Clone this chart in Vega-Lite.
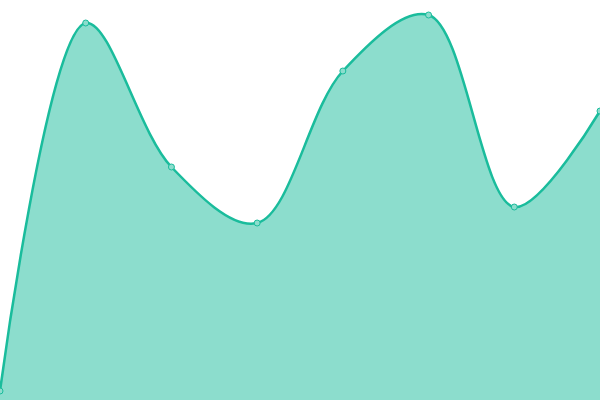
{
  "$schema": "https://vega.github.io/schema/vega-lite/v6.json",
  "autosize": {"type": "none"},
  "width": 600,
  "height": 400,
  "padding": 0,
  "config": {"view": {"stroke": null}},
  "data": {
    "values": [
      {"i": 0, "v": 9},
      {"i": 1, "v": 377},
      {"i": 2, "v": 233},
      {"i": 3, "v": 177},
      {"i": 4, "v": 329},
      {"i": 5, "v": 385},
      {"i": 6, "v": 193},
      {"i": 7, "v": 289}
    ]
  },
  "encoding": {
    "x": {"field": "i", "type": "quantitative", "scale": {"domain": [0, 7], "nice": false, "zero": false}, "axis": null},
    "y": {"field": "v", "type": "quantitative", "scale": {"domain": [0, 400], "nice": false}, "axis": null}
  },
  "layer": [
    {"mark": {"type": "area", "interpolate": "catmull-rom", "color": "#1abc9c", "fillOpacity": 0.5, "clip": true}},
    {"mark": {"type": "line", "interpolate": "catmull-rom", "color": "#1abc9c", "strokeWidth": 2.5}},
    {"mark": {"type": "point", "filled": false, "fill": "#8cddcd", "fillOpacity": 1, "stroke": "#1abc9c", "strokeWidth": 1, "size": 36, "opacity": 1}}
  ]
}
